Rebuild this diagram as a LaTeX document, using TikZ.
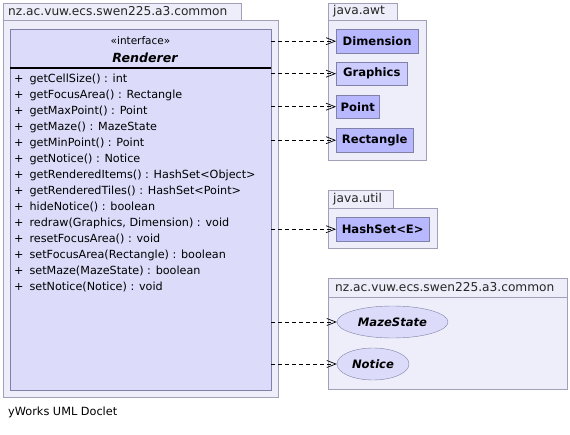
\documentclass[tikz,border=0pt]{standalone}
\usepackage{fontspec}
\setmainfont{DejaVu Sans}
\usetikzlibrary{shapes.geometric,arrows.meta}

\definecolor{pkgfill}{HTML}{EEEEFA}
\definecolor{pkgline}{HTML}{A0A0B8}
\definecolor{ifacefill}{HTML}{DCDCFA}
\definecolor{classfill}{HTML}{B8B8FF}
\definecolor{classlight}{HTML}{CCCCFF}
\definecolor{classline}{HTML}{8080A8}

\tikzset{
  pkg/.style={draw=pkgline, fill=pkgfill, inner sep=0pt, anchor=north west},
  pkgtitle/.style={anchor=west, inner sep=0pt, font=\fontsize{12.2}{14}\selectfont, text=black!85},
  cls/.style={draw=classline, fill=classfill, anchor=north west, inner sep=0pt, font=\bfseries\fontsize{11.6}{13}\selectfont},
  usecase/.style={ellipse, draw=classline, fill=ifacefill, inner sep=0pt, font=\bfseries\itshape\fontsize{11.6}{13}\selectfont},
  method/.style={anchor=west, inner sep=0pt, font=\fontsize{11.2}{13}\selectfont},
  dep/.style={dash pattern=on 4pt off 3pt, line width=0.7pt, -{Straight Barb[length=9pt,width=7pt]}},
}

\begin{document}
\begin{tikzpicture}[x=1pt,y=-1pt]
	\useasboundingbox (0,0) rectangle (570,435);

	% package of the interface
	\node [pkg, minimum width=238pt, minimum height=17pt] at (3,3) (tabA) {};
	\node [pkg, minimum width=275pt, minimum height=377pt] at (3,20) (pkgA) {};
	\node [pkgtitle] at (8,11.5) (titleA) {nz.ac.vuw.ecs.swen225.a3.common};

	% interface Renderer
	\node [draw=classline, fill=ifacefill, anchor=north west, inner sep=0pt, minimum width=261pt, minimum height=361pt] at (10,29) (iface) {};
	\node [inner sep=0pt, font=\fontsize{10.5}{12}\selectfont] at (140.5,41) (stereo) {«interface»};
	\node [inner sep=0pt, font=\bfseries\itshape\fontsize{12.6}{15}\selectfont] at (145,58) (name) {Renderer};
	\coordinate (sep) at (0,68);
	\draw [line width=1.6pt] (iface.west |- sep) -- (iface.east |- sep);
	\foreach \m [count=\i from 0] in {getCellSize() : int, getFocusArea() : Rectangle, getMaxPoint() : Point,
		getMaze() : MazeState, getMinPoint() : Point, getNotice() : Notice,
		getRenderedItems() : HashSet<Object>, getRenderedTiles() : HashSet<Point>,
		hideNotice() : boolean, {redraw(Graphics, Dimension) : void}, resetFocusArea() : void,
		setFocusArea(Rectangle) : boolean, setMaze(MazeState) : boolean, setNotice(Notice) : void}
		\node [method] (m\i) at (14,{79+16*\i}) {+\hspace{6pt}\m};

	% java.awt
	\node [pkg, minimum width=69pt, minimum height=17pt] at (328,3) (tabB) {};
	\node [pkg, minimum width=98pt, minimum height=140pt] at (328,20) (pkgB) {};
	\node [pkgtitle] at (333,11.5) (titleB) {java.awt};
	\node [cls, minimum width=82pt, minimum height=24pt] at (336,29) (dim) {Dimension};
	\node [cls, fill=classlight, minimum width=71pt, minimum height=23pt] at (336,62) (gfx) {Graphics};
	\node [cls, minimum width=43pt, minimum height=23pt] at (336,95) (pt) {Point};
	\node [cls, minimum width=77pt, minimum height=24pt] at (336,128) (rect) {Rectangle};

	% java.util
	\node [pkg, minimum width=65pt, minimum height=18pt] at (328,190) (tabC) {};
	\node [pkg, minimum width=109pt, minimum height=40pt] at (328,208) (pkgC) {};
	\node [pkgtitle] at (333,199) (titleC) {java.util};
	\node [cls, minimum width=93pt, minimum height=24pt] at (336,217) (hset) {HashSet<E>};

	% same package, other side
	\node [pkg, minimum width=239pt, minimum height=111pt] at (328,278) (pkgD) {};
	\coordinate (hd) at (0,297);
	\draw [pkgline] (pkgD.west |- hd) -- (pkgD.east |- hd);
	\node [pkgtitle] at (335,287.5) (titleD) {nz.ac.vuw.ecs.swen225.a3.common};
	\node [usecase, minimum width=111pt, minimum height=32pt] at (392.5,322) (maze) {MazeState};
	\node [usecase, minimum width=72pt, minimum height=32pt] at (373,364) (notice) {Notice};

	% dependencies
	\draw [dep] (iface.east |- dim.west) -- (dim.west);
	\draw [dep] (iface.east |- gfx.west) -- (gfx.west);
	\draw [dep] (iface.east |- pt.west) -- (pt.west);
	\draw [dep] (iface.east |- rect.west) -- (rect.west);
	\draw [dep] (iface.east |- hset.west) -- (hset.west);
	\draw [dep] (iface.east |- maze.west) -- (maze.west);
	\draw [dep] (iface.east |- notice.west) -- (notice.west);

	\node [anchor=west, inner sep=0pt, font=\fontsize{11.3}{13}\selectfont] at (8,412) (doclet) {yWorks UML Doclet};
\end{tikzpicture}
\end{document}
